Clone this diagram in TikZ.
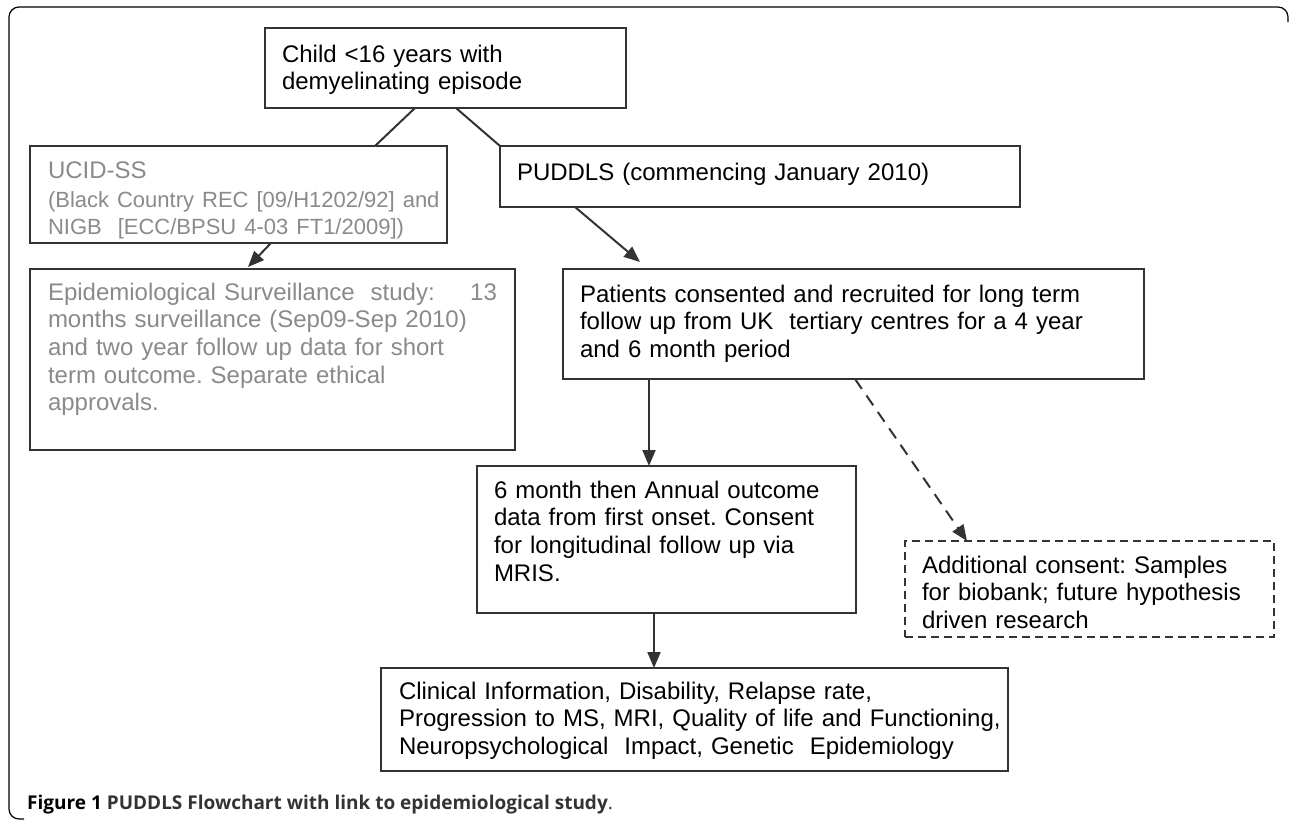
\documentclass[tikz,border=0pt]{standalone}
\usepackage{fontspec}
\setmainfont{Liberation Sans}
\newfontfamily\capfont{Open Sans}
\usetikzlibrary{arrows.meta}
\definecolor{boxline}{HTML}{333333}
\definecolor{greytext}{HTML}{8A8A8A}
\frenchspacing
\tikzset{
  flowbox/.style={draw=boxline, line width=2pt, anchor=north west, outer sep=0pt,
    inner ysep=0pt, inner xsep=17pt, align=left,
    font=\fontsize{24}{27.7}\selectfont},
  greybox/.style={flowbox, text=greytext, inner xsep=18pt},
  dashbox/.style={flowbox, dash pattern=on 8pt off 5pt},
  link/.style={line width=2pt, boxline},
  arrowlink/.style={link, -{Triangle[length=16pt,width=13pt]}}
}
\begin{document}
\begin{tikzpicture}[x=1pt,y=-1pt]
  \useasboundingbox (0,0) rectangle (1290,822);
  % frame of the figure
  \draw[line width=1.2pt, rounded corners=10pt] (24,819) -- (9,819) -- (9,7) -- (1288,7) -- (1288,22);

  \node[flowbox, text width=327pt, text height=34pt, text depth=46pt] (child) at (265,28)
    {Child <16 years with\\demyelinating episode};
  \node[greybox, text width=381pt, text height=32pt, text depth=65pt] (ucid) at (30,146)
    {UCID-SS\\[4pt]\fontsize{22}{25}\selectfont \mbox{(Black Country REC [09/H1202/92] and}\\\mbox{NIGB\ \ [ECC/BPSU 4-03 FT1/2009])}};
  \node[flowbox, text width=486pt, text height=34pt, text depth=27pt] (puddls) at (500,146)
    {PUDDLS (commencing January 2010)};
  \node[greybox, text width=449pt, text height=31pt, text depth=150pt] (epi) at (30,269)
    {\hbox to \linewidth{Epidemiological Surveillance\ \ study:\hfill 13}\\
     \mbox{months surveillance (Sep09-Sep 2010)}\\\mbox{and two year follow up data for short}\\
     term outcome. Separate ethical\\approvals.};
  \node[flowbox, text width=547pt, text height=33pt, text depth=77pt] (patients) at (563,269)
    {\mbox{Patients consented and recruited for long term}\\\mbox{follow up from UK\ \ tertiary centres for a 4 year}\\and 6 month period};
  \node[flowbox, text width=345pt, text height=32pt, text depth=115pt] (sixmonth) at (477,466)
    {\mbox{6 month then Annual outcome}\\\mbox{data from first onset. Consent}\\\mbox{for longitudinal follow up via}\\MRIS.};
  \node[dashbox, text width=335pt, text height=32pt, text depth=64pt] (addl) at (905,541)
    {\mbox{Additional consent: Samples}\\\mbox{for biobank; future hypothesis}\\driven research};
  \node[flowbox, inner xsep=18pt, text width=591pt, text height=31pt, text depth=72pt] (clinical) at (381,668)
    {\mbox{Clinical Information, Disability, Relapse rate,}\\\mbox{Progression to MS, MRI, Quality of life and Functioning,}\\\mbox{Neuropsychological\ \ Impact, Genetic\ \ Epidemiology}};

  % connectors
  \draw[link] ([xshift=150pt]child.south west) -- ([xshift=345pt]ucid.north west);
  \draw[link] ([xshift=191pt]child.south west) -- (puddls.north west);
  \draw[arrowlink] ([xshift=241pt]ucid.south west) -- ([xshift=218pt,yshift=2pt]epi.north west);
  \draw[arrowlink] ([xshift=75pt]puddls.south west) -- ([xshift=77pt,yshift=7pt]patients.north west);
  \draw[arrowlink] ([xshift=86pt]patients.south west) -- ([xshift=172pt]sixmonth.north west);
  \draw[arrowlink] ([xshift=177pt]sixmonth.south west) -- ([xshift=273pt]clinical.north west);
  \draw[arrowlink, dash pattern=on 12pt off 8pt] ([xshift=292pt]patients.south west) -- ([xshift=62pt]addl.north west);

  \node[anchor=base west, inner sep=0pt, font=\capfont\fontsize{19}{22}\selectfont] (caption) at (27,809)
    {\textbf{Figure 1} \textcolor{black!80}{\textbf{PUDDLS Flowchart with link to epidemiological study}.}};
\end{tikzpicture}
\end{document}
